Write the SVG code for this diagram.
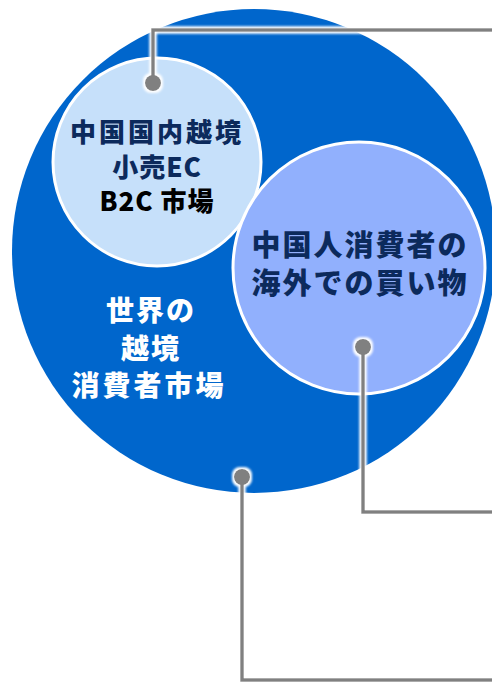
<svg xmlns="http://www.w3.org/2000/svg" width="492" height="682" viewBox="0 0 492 682">
  <defs>
    <filter id="glow" x="-20%" y="-20%" width="140%" height="140%">
      <feMorphology in="SourceAlpha" operator="dilate" radius="1.5" result="d"/>
      <feGaussianBlur in="d" stdDeviation="1" result="b"/>
      <feFlood flood-color="#ffffff"/>
      <feComposite in2="b" operator="in" result="w"/>
      <feMerge>
        <feMergeNode in="w"/>
        <feMergeNode in="SourceGraphic"/>
      </feMerge>
    </filter>
    <style>
      .t { font-family: "Noto Sans CJK JP", "Noto Sans", sans-serif; font-weight: 900; text-anchor: middle; }
      .navy { fill: #0c2a5c; }
      .blk { fill: #000000; }
      .wht { fill: #ffffff; }
      .conn { fill: none; stroke: #808080; stroke-width: 3.5; }
      .dot { fill: #808080; }
    </style>
  </defs>
  <rect width="492" height="682" fill="#ffffff"/>

  <g id="world-market">
    <circle cx="254" cy="251" r="242" fill="#0066cc"/>
    <text class="t wht" font-size="28" letter-spacing="2" x="151" y="321">世界の</text>
    <text class="t wht" font-size="28" letter-spacing="2" x="151" y="359">越境</text>
    <text class="t wht" font-size="28" letter-spacing="3" x="149" y="396">消費者市場</text>
  </g>

  <g id="china-ec-market">
    <circle cx="157" cy="162" r="104" fill="#c6e0fa" stroke="#ffffff" stroke-width="3"/>
    <text class="t navy" font-size="26" letter-spacing="3" x="157" y="142">中国国内越境</text>
    <text class="t navy" font-size="26" letter-spacing="1" x="157" y="177">小売EC</text>
    <text class="t blk" font-size="26" letter-spacing="1" x="157" y="211">B2C 市場</text>
  </g>

  <g id="chinese-consumers">
    <circle cx="359" cy="268" r="126" fill="#91b0fd" stroke="#ffffff" stroke-width="3"/>
    <text class="t navy" font-size="29" letter-spacing="2" x="360" y="256">中国人消費者の</text>
    <text class="t navy" font-size="29" letter-spacing="2" x="360" y="294">海外での買い物</text>
  </g>

  <g id="connectors" filter="url(#glow)">
    <polyline class="conn" points="153,83 153,30 492,30"/>
    <circle class="dot" cx="153" cy="83" r="8"/>
    <polyline class="conn" points="363,347 363,512 492,512"/>
    <circle class="dot" cx="363" cy="347" r="8"/>
    <polyline class="conn" points="242,477 242,680 492,680"/>
    <circle class="dot" cx="242" cy="477" r="8"/>
  </g>
</svg>
